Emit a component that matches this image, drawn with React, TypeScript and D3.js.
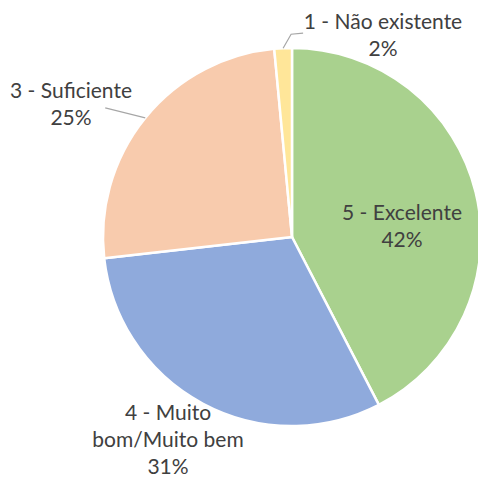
import React from "react";
import * as d3 from "d3";

const categories = ["5 - Excelente", "4 - Muito bom/Muito bem", "3 - Suficiente", "1 - Não existente"];
const values = [42.4, 30.8, 25.3, 1.5];
const percentLabels = ["42%", "31%", "25%", "2%"];
const labelLines = [["5 - Excelente"], ["4 - Muito", "bom/Muito bem"], ["3 - Suficiente"], ["1 - Não existente"]];
const colors = ["#A9D18E", "#8FAADC", "#F8CBAD", "#FFE699"];

// layout (px)
const W = 478, H = 480;
const CX = 292, CY = 237, R = 189;
const FONT = 21;
const LH = 27;
const labelPos = [
  { x: 402, y: 220 },
  { x: 168, y: 420 },
  { x: 71, y: 98 },
  { x: 383, y: 29 },
];

export default function App() {
  const pie = d3.pie<number>().sort(null).value((d) => d)(values);
  const arc = d3.arc<d3.PieArcDatum<number>>().innerRadius(0).outerRadius(R);
  const edge = (d: d3.PieArcDatum<number>) => {
    const a = (d.startAngle + d.endAngle) / 2;
    return [CX + R * Math.sin(a), CY - R * Math.cos(a)];
  };
  const [sx, sy] = edge(pie[2]);
  const [yx, yy] = edge(pie[3]);
  return (
    <svg width={W} height={H} style={{ position: "absolute", left: 0, top: 0, background: "#fff" }}>
      <g transform={`translate(${CX},${CY})`}>
        {pie.map((d, i) => (
          <path key={i} d={arc(d) || ""} fill={colors[i]} stroke="#fff" strokeWidth={2.5} strokeLinejoin="round" />
        ))}
      </g>
      {/* leader lines */}
      <path d={`M${sx},${sy} L${sx - 40},${sy - 10}`} fill="none" stroke="#A6A6A6" strokeWidth={1.2} />
      <path d={`M${yx},${yy} L${yx + 8},${yy - 14} L${yx + 20},${yy - 15}`} fill="none" stroke="#A6A6A6" strokeWidth={1.2} />
      {categories.map((c, i) => {
        const lines = [...labelLines[i], percentLabels[i]];
        return (
          <text key={c} x={labelPos[i].x} y={labelPos[i].y} textAnchor="middle" fontFamily="Lato, Carlito, Calibri, sans-serif" fontSize={FONT} fill="#404040">
            {lines.map((t, j) => (
              <tspan key={j} x={labelPos[i].x} dy={j === 0 ? 0 : LH}>{t}</tspan>
            ))}
          </text>
        );
      })}
    </svg>
  );
}
